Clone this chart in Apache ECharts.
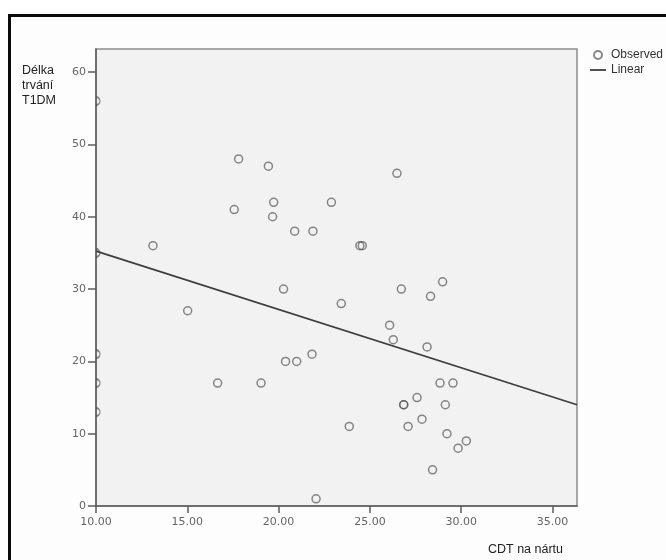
<!DOCTYPE html>
<html>
<head>
<meta charset="utf-8">
<script src="https://cdn.jsdelivr.net/npm/echarts@6/dist/echarts.min.js"></script>
<style>
  html, body { margin:0; padding:0; background:#ffffff; }
  #wrap { position:relative; width:666px; height:560px; overflow:hidden; background:#ffffff; }
  #frame { position:absolute; left:8px; top:14px; width:700px; height:600px; border:3px solid #0b0b0b; background:#fdfdfd; }
  #chart { position:absolute; left:0; top:0; width:666px; height:560px; }
</style>
</head>
<body>
<div id="wrap">
  <div id="frame"></div>
  <div id="chart"></div>
</div>
<script>
// Observed values (CDT na nártu, Délka trvání T1DM)
const obsX = [10, 10, 10, 10, 10, 13.12, 15.02, 16.66, 17.57, 17.81, 19.04, 19.44, 19.67, 19.73, 20.27, 20.38, 20.88, 20.99, 21.83, 21.88, 22.05, 22.89, 23.43, 23.87, 24.45, 24.58, 26.08, 26.28, 26.48, 26.72, 26.85, 26.85, 27.09, 27.58, 27.85, 28.13, 28.32, 28.43, 28.84, 28.98, 29.13, 29.22, 29.55, 29.83, 30.28];
const obsY = [56, 35, 21, 17, 13, 36, 27, 17, 41, 48, 17, 47, 40, 42, 30, 20, 38, 20, 21, 38, 1, 42, 28, 11, 36, 36, 25, 23, 46, 30, 14, 14, 11, 15, 12, 22, 29, 5, 17, 31, 14, 10, 17, 8, 9];
// Linear fit line end points
const fitX = [10, 36.34];
const fitY = [35.25, 14.0];
// Axis ticks
const xTicks = [10, 15, 20, 25, 30, 35];
const yTicks = [0, 10, 20, 30, 40, 50, 60];
const xMin = 10, xMax = 36.34, yMin = 0, yMax = 63.2;

const inner = [], edge = [];
for (let i = 0; i < obsX.length; i++) {
  (obsX[i] <= xMin ? edge : inner).push([obsX[i], obsY[i]]);
}
const fitData = fitX.map((x, i) => [x, fitY[i]]);

const circleStyle = { color: 'rgba(0,0,0,0)', borderColor: 'rgba(80,80,80,0.85)', borderWidth: 1.5 };
const axisCol = '#5c5c5c';

const chart = echarts.init(document.getElementById('chart'), null, { renderer: 'canvas' });
chart.setOption({
  animation: false,
  backgroundColor: 'transparent',
  title: [
    { text: 'Délka\ntrvání\nT1DM', left: 22, top: 63, padding: 0,
      textStyle: { fontFamily: 'Liberation Sans', fontSize: 12.5, fontWeight: 'normal', color: '#222', lineHeight: 15 } },
    { text: 'CDT na nártu', left: 488, top: 543, padding: 0,
      textStyle: { fontFamily: 'Liberation Sans', fontSize: 12.5, fontWeight: 'normal', color: '#222' } }
  ],
  legend: {
    orient: 'vertical', left: 590, top: 49, padding: 0,
    itemWidth: 16, itemHeight: 8, itemGap: 3,
    textStyle: { fontFamily: 'Liberation Sans', fontSize: 12, color: '#333' },
    data: [
      { name: 'Observed' },
      { name: 'Linear', icon: 'path://M0,0H16V1.8H0Z' }
    ]
  },
  grid: {
    left: 96, top: 49, width: 481, height: 457,
    show: true, backgroundColor: '#f2f2f2', borderColor: '#8c8c8c', borderWidth: 1.5
  },
  xAxis: {
    type: 'value', min: xMin, max: xMax, interval: 5,
    splitLine: { show: false },
    axisLine: { show: true, onZero: false, lineStyle: { color: axisCol, width: 1.5 } },
    axisTick: { show: true, length: 7, customValues: xTicks, lineStyle: { color: axisCol, width: 1.5 } },
    axisLabel: { customValues: xTicks, margin: 11, formatter: v => Number(v).toFixed(2),
      fontFamily: 'DejaVu Sans', fontSize: 11, color: '#666' }
  },
  yAxis: {
    type: 'value', min: yMin, max: yMax, interval: 10,
    splitLine: { show: false },
    axisLine: { show: true, onZero: false, lineStyle: { color: axisCol, width: 1.5 } },
    axisTick: { show: true, length: 8, customValues: yTicks, lineStyle: { color: axisCol, width: 1.5 } },
    axisLabel: { customValues: yTicks, margin: 10, formatter: v => String(v),
      fontFamily: 'DejaVu Sans', fontSize: 11, color: '#666' }
  },
  series: [
    { name: 'Observed', type: 'scatter', data: inner, symbol: 'circle', symbolSize: 8,
      itemStyle: circleStyle, z: 3, silent: true },
    { name: 'Observed', type: 'scatter', data: edge, symbol: 'path://M0,0A4,4,0,0,1,0,8',
      symbolSize: [4, 8], symbolOffset: [2, 0], symbolKeepAspect: false,
      itemStyle: circleStyle, z: 3, silent: true },
    { name: 'Linear', type: 'line', data: fitData, symbol: 'none', showSymbol: false,
      lineStyle: { color: '#3e3e3e', width: 1.7 }, itemStyle: { color: '#3e3e3e' }, z: 4, silent: true }
  ]
});
</script>
</body>
</html>
